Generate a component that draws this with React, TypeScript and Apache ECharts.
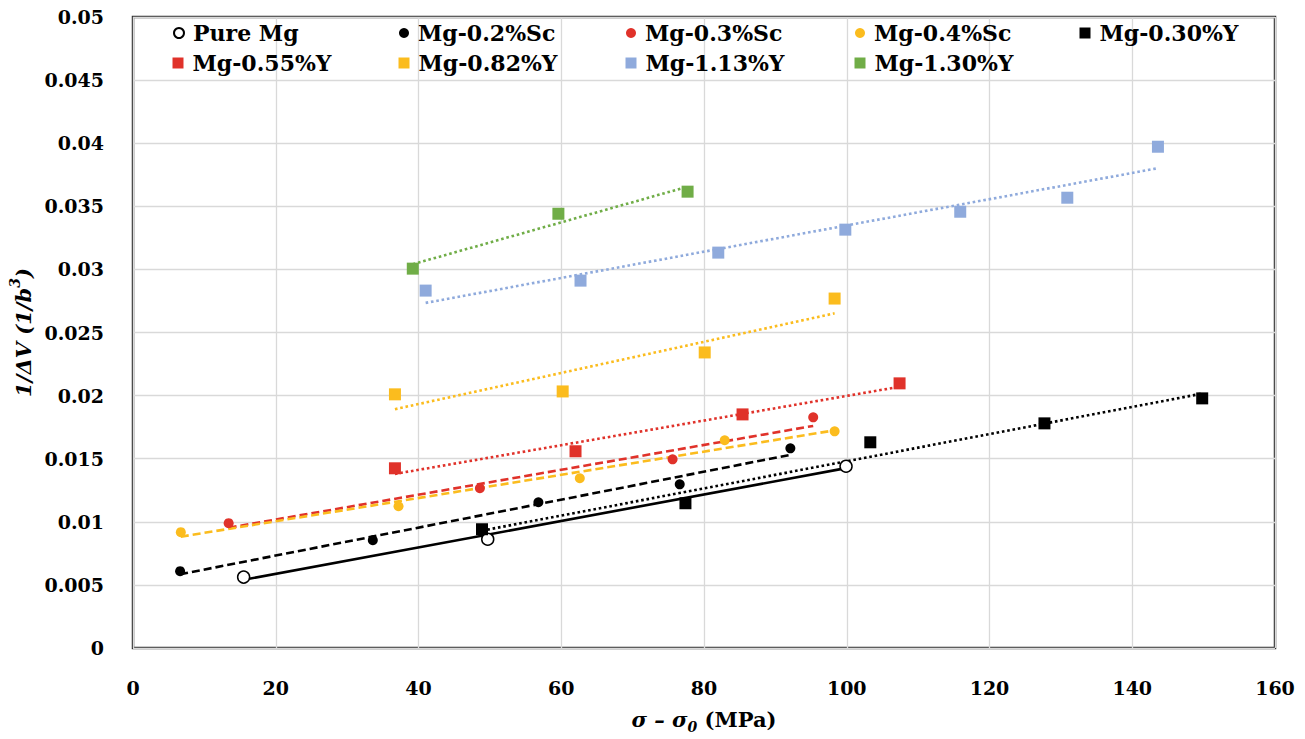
import React, { useEffect, useRef } from "react";
import * as echarts from "echarts";

const xTicks = [0, 20, 40, 60, 80, 100, 120, 140, 160];
const yTicks = [0, 0.005, 0.01, 0.015, 0.02, 0.025, 0.03, 0.035, 0.04, 0.045, 0.05];

const seriesNames = [
  "Pure Mg", "Mg-0.2%Sc", "Mg-0.3%Sc", "Mg-0.4%Sc", "Mg-0.30%Y",
  "Mg-0.55%Y", "Mg-0.82%Y", "Mg-1.13%Y", "Mg-1.30%Y",
];

const pureMgX = [15.5, 49.7, 99.9];
const pureMgY = [0.00562, 0.00862, 0.0144];
const sc02X = [6.6, 33.6, 56.8, 76.6, 92.1];
const sc02Y = [0.00609, 0.00854, 0.01155, 0.01297, 0.01582];
const sc03X = [13.4, 48.6, 75.6, 95.3];
const sc03Y = [0.00989, 0.01266, 0.01495, 0.01828];
const sc04X = [6.7, 37.2, 62.6, 82.9, 98.3];
const sc04Y = [0.00918, 0.01123, 0.01345, 0.01646, 0.01717];
const y030X = [48.9, 77.4, 103.3, 127.7, 149.8];
const y030Y = [0.00941, 0.01147, 0.0163, 0.0178, 0.01978];
const y055X = [36.7, 62.0, 85.4, 107.4];
const y055Y = [0.01424, 0.01559, 0.01851, 0.02097];
const y082X = [36.7, 60.2, 80.1, 98.3];
const y082Y = [0.0201, 0.02033, 0.02342, 0.02769];
const y113X = [41.0, 62.7, 82.0, 99.8, 115.9, 130.9, 143.6];
const y113Y = [0.02832, 0.02911, 0.03133, 0.03315, 0.03457, 0.03568, 0.03972];
const y130X = [39.2, 59.6, 77.7];
const y130Y = [0.03006, 0.03441, 0.03616];

const RED = "#E0322A";
const GOLD = "#FBBC1E";
const BLUE = "#8FAADC";
const GREEN = "#70AD47";
const BLACK = "#000000";

const FONT = "DejaVu Serif";

type Spec = {
  name: string; xs: number[]; ys: number[]; symbol: string; size: number;
  color: string; open?: boolean; trend: "solid" | "dashed" | "dotted"; trendColor: string;
};

const specs: Spec[] = [
  { name: seriesNames[0], xs: pureMgX, ys: pureMgY, symbol: "circle", size: 12, color: BLACK, open: true, trend: "solid", trendColor: BLACK },
  { name: seriesNames[1], xs: sc02X, ys: sc02Y, symbol: "circle", size: 10, color: BLACK, trend: "dashed", trendColor: BLACK },
  { name: seriesNames[2], xs: sc03X, ys: sc03Y, symbol: "circle", size: 10, color: RED, trend: "dashed", trendColor: RED },
  { name: seriesNames[3], xs: sc04X, ys: sc04Y, symbol: "circle", size: 10, color: GOLD, trend: "dashed", trendColor: GOLD },
  { name: seriesNames[4], xs: y030X, ys: y030Y, symbol: "rect", size: 12, color: BLACK, trend: "dotted", trendColor: BLACK },
  { name: seriesNames[5], xs: y055X, ys: y055Y, symbol: "rect", size: 12, color: RED, trend: "dotted", trendColor: RED },
  { name: seriesNames[6], xs: y082X, ys: y082Y, symbol: "rect", size: 12, color: GOLD, trend: "dotted", trendColor: GOLD },
  { name: seriesNames[7], xs: y113X, ys: y113Y, symbol: "rect", size: 12, color: BLUE, trend: "dotted", trendColor: BLUE },
  { name: seriesNames[8], xs: y130X, ys: y130Y, symbol: "rect", size: 12, color: GREEN, trend: "dotted", trendColor: GREEN },
];

function fit(xs: number[], ys: number[]) {
  const n = xs.length;
  const mx = xs.reduce((a, b) => a + b, 0) / n;
  const my = ys.reduce((a, b) => a + b, 0) / n;
  let sxy = 0, sxx = 0;
  for (let i = 0; i < n; i++) {
    sxy += (xs[i] - mx) * (ys[i] - my);
    sxx += (xs[i] - mx) * (xs[i] - mx);
  }
  const k = sxy / sxx;
  const b = my - k * mx;
  const x0 = Math.min(...xs), x1 = Math.max(...xs);
  return [[x0, k * x0 + b], [x1, k * x1 + b]];
}

const legendCols = [178, 404, 631, 860, 1085];
const legendRows = [33, 63];

export default function App() {
  const ref = useRef<HTMLDivElement>(null);
  useEffect(() => {
    if (!ref.current) return;
    const chart = echarts.init(ref.current, null, { renderer: "svg" });

    const series: any[] = [];
    specs.forEach((s) => {
      const lt: any = s.trend === "solid" ? "solid" : s.trend === "dashed" ? [8, 4] : [2.6, 2.8];
      series.push({
        type: "line",
        name: "trend " + s.name,
        data: fit(s.xs, s.ys),
        showSymbol: false,
        symbol: "none",
        silent: true,
        z: 1,
        lineStyle: { color: s.trendColor, width: s.trend === "dotted" ? 2.6 : 2.6, type: lt },
      });
    });
    specs.forEach((s) => {
      series.push({
        type: "scatter",
        name: s.name,
        data: s.xs.map((x, i) => [x, s.ys[i]]),
        symbol: s.symbol,
        symbolSize: s.size,
        z: 3,
        itemStyle: s.open
          ? { color: "#ffffff", borderColor: BLACK, borderWidth: 1.5, opacity: 1 }
          : { color: s.color, opacity: 1 },
      });
    });

    const legends = specs.map((s, i) => {
      const col = i < 5 ? i : i - 5;
      const row = i < 5 ? 0 : 1;
      const iw = s.symbol === "rect" ? 11 : 10;
      return {
        data: [s.name],
        left: legendCols[col] - iw / 2,
        top: legendRows[row] - 13,
        itemWidth: iw,
        itemHeight: iw,
        itemGap: 0,
        padding: 0,
        icon: s.symbol === "rect" ? "rect" : "circle",
        textStyle: {
          fontFamily: FONT, fontWeight: "bold", fontSize: 22, color: "#000",
          lineHeight: 26, padding: [0, 0, 0, 4],
        },
        selectedMode: false,
      };
    });

    chart.setOption({
      animation: false,
      backgroundColor: "#ffffff",
      legend: legends,
      grid: {
        left: 132, right: 30, top: 17, bottom: 90,
        show: true, borderColor: "#333333", borderWidth: 2.5, backgroundColor: "transparent",
      },
      xAxis: {
        type: "value", min: xTicks[0], max: xTicks[xTicks.length - 1], interval: 20,
        axisLine: { show: false }, axisTick: { show: false },
        splitLine: { show: true, lineStyle: { color: "#d9d9d9", width: 1.3 } },
        axisLabel: { fontFamily: FONT, fontWeight: "bold", fontSize: 19, color: "#000", margin: 30 },
        name: "{i|σ – σ}{sub|0}{b| (MPa)}",
        nameLocation: "middle",
        nameGap: 56,
        nameTextStyle: {
          rich: {
            i: { fontFamily: FONT, fontWeight: "bold", fontStyle: "italic", fontSize: 21, color: "#000", lineHeight: 30, verticalAlign: "middle" },
            sub: { fontFamily: FONT, fontWeight: "bold", fontStyle: "italic", fontSize: 14, color: "#000", lineHeight: 14, verticalAlign: "bottom" },
            b: { fontFamily: FONT, fontWeight: "bold", fontSize: 21, color: "#000", lineHeight: 30, verticalAlign: "middle" },
          },
        },
      },
      yAxis: {
        type: "value", min: yTicks[0], max: yTicks[yTicks.length - 1], interval: 0.005,
        axisLine: { show: false }, axisTick: { show: false },
        splitLine: { show: true, lineStyle: { color: "#d9d9d9", width: 1.3 } },
        axisLabel: {
          fontFamily: FONT, fontWeight: "bold", fontSize: 19, color: "#000", margin: 29,
          formatter: (v: number) => String(parseFloat(v.toFixed(4))),
        },
        name: "{i|1/ΔV (1/b}{sup|3}{i|)}",
        nameLocation: "middle",
        nameGap: 95,
        nameTextStyle: {
          rich: {
            i: { fontFamily: FONT, fontWeight: "bold", fontStyle: "italic", fontSize: 21, color: "#000", lineHeight: 30, verticalAlign: "middle" },
            sup: { fontFamily: FONT, fontWeight: "bold", fontStyle: "italic", fontSize: 14, color: "#000", lineHeight: 14, verticalAlign: "top" },
          },
        },
      },
      series,
    });
    return () => chart.dispose();
  }, []);
  return (
    <div
      ref={ref}
      style={{ position: "absolute", left: 0, top: 0, width: 1305, height: 739, background: "#fff" }}
    />
  );
}
